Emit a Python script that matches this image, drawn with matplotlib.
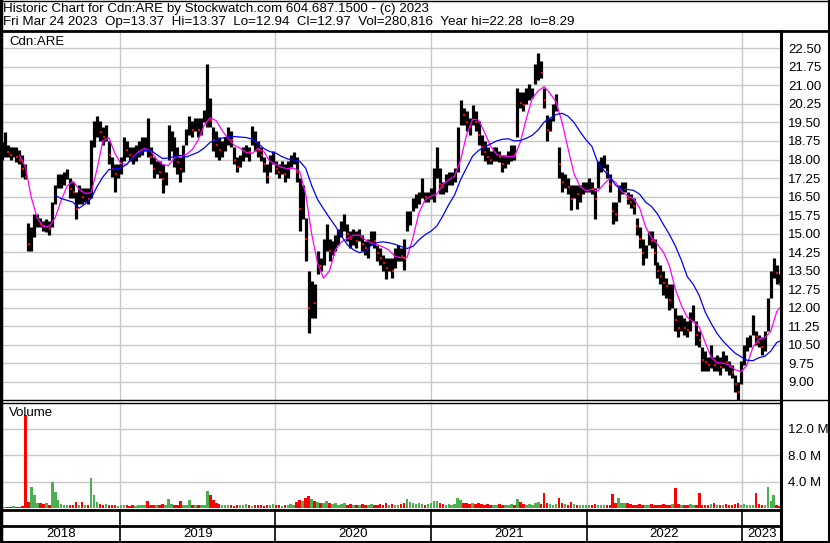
import numpy as np
import pandas as pd
import matplotlib
matplotlib.use('Agg')
import matplotlib.pyplot as plt
import matplotlib.dates as mdates
from matplotlib.lines import Line2D

plt.rcParams['font.family'] = ['Liberation Sans', 'DejaVu Sans']

# weekly bars (one bar per week from 2018-03-29)
first_week = '2018-03-29'
highs = [18.7, 19.1, 18.6, 18.5, 18.5, 18.5, 18.4, 18.2, 17.8, 15.45,
         15.25, 15.8, 15.8, 15.65, 15.5, 15.6, 15.5, 16.3, 16.95, 17.4,
         17.4, 17.5, 17.6, 17.25, 17.1, 16.7, 16.95, 16.85, 16.85, 16.85,
         18.8, 19.55, 19.75, 19.55, 19.3, 19.4, 18.75, 18.1, 17.8, 17.8,
         18.1, 18.9, 18.75, 18.5, 18.5, 18.6, 18.75, 18.9, 18.9, 19.7,
         18.5, 18.1, 17.95, 17.95, 17.8, 17.5, 19.4, 19.15, 18.9, 18.5,
         18.1, 18.6, 19.25, 19.75, 19.55, 19.7, 19.7, 19.7, 20.0, 21.85,
         20.5, 19.3, 19.15, 18.9, 18.75, 18.9, 19.3, 19.15, 18.5, 18.1,
         18.2, 18.5, 18.6, 18.5, 19.35, 19.15, 18.75, 18.5, 18.1, 17.8,
         18.2, 18.35, 17.95, 17.8, 17.95, 17.8, 17.95, 18.2, 18.3, 18.1,
         17.25, 16.95, 15.65, 13.5, 13.1, 12.95, 14.3, 14.0, 14.8, 15.4,
         14.8, 14.7, 14.95, 15.2, 15.5, 15.8, 15.4, 15.1, 15.2, 15.1,
         15.2, 14.95, 14.7, 14.8, 15.1, 15.1, 14.55, 14.4, 14.15, 14.0,
         14.0, 14.0, 14.4, 14.55, 14.4, 14.8, 15.9, 15.9, 16.45, 16.6,
         16.7, 17.25, 16.7, 16.7, 16.85, 17.65, 18.5, 17.65, 17.1, 17.4,
         17.5, 17.5, 17.65, 19.3, 20.4, 20.1, 19.95, 19.7, 20.2, 19.95,
         19.55, 19.0, 18.75, 18.5, 18.35, 18.5, 18.5, 18.35, 18.2, 18.2,
         18.35, 18.6, 18.6, 20.9, 20.75, 20.75, 20.9, 21.05, 20.9, 21.85,
         22.3, 22.0, 20.9, 19.8, 19.7, 20.25, 20.65, 18.5, 17.5, 17.4,
         17.25, 16.95, 16.95, 16.95, 16.95, 17.1, 17.1, 17.25, 17.1, 16.85,
         17.95, 18.1, 18.2, 17.8, 17.4, 16.3, 16.3, 16.95, 17.1, 17.1,
         16.7, 16.6, 16.45, 15.65, 15.25, 14.8, 14.55, 15.1, 15.1, 14.8,
         13.85, 13.75, 13.5, 13.2, 12.95, 12.95, 12.0, 11.7, 11.7, 11.6,
         11.45, 11.85, 12.1, 11.45, 11.05, 10.4, 10.25, 10.0, 10.5, 10.0,
         10.1, 10.0, 10.25, 10.1, 9.85, 9.7, 9.3, 9.0, 9.85, 10.5,
         10.8, 10.9, 11.7, 11.05, 10.9, 10.8, 11.05, 12.4, 13.5, 14.0,
         13.75, 13.37]
lows = [18.0, 18.1, 18.1, 18.0, 18.1, 17.9, 17.8, 17.3, 17.2, 14.3,
        14.3, 14.85, 15.25, 15.25, 15.1, 15.05, 14.95, 15.25, 16.2, 16.85,
        16.85, 16.95, 17.2, 16.45, 16.45, 15.6, 16.2, 16.2, 16.3, 16.2,
        16.45, 18.5, 18.9, 18.75, 18.6, 18.75, 17.8, 17.3, 16.7, 17.25,
        17.4, 17.95, 18.1, 17.95, 17.8, 17.95, 18.1, 18.2, 18.35, 18.1,
        17.8, 17.25, 17.4, 17.25, 16.65, 16.95, 18.0, 18.35, 17.7, 17.4,
        17.1, 17.5, 18.6, 19.0, 18.9, 19.15, 18.9, 19.0, 19.5, 19.3,
        19.3, 18.35, 18.1, 18.0, 18.1, 18.35, 18.6, 18.5, 17.8, 17.5,
        17.7, 17.95, 18.1, 17.95, 18.6, 18.35, 18.1, 17.95, 17.5, 17.05,
        17.5, 17.8, 17.4, 17.25, 17.4, 17.1, 17.25, 17.7, 17.8, 17.1,
        15.1, 15.6, 13.9, 11.0, 11.6, 11.6, 13.35, 13.5, 13.75, 14.3,
        13.9, 14.15, 14.3, 14.55, 14.85, 15.1, 14.7, 14.4, 14.55, 14.4,
        14.7, 14.3, 14.15, 14.0, 14.55, 14.4, 13.9, 13.75, 13.5, 13.15,
        13.5, 13.2, 13.6, 13.9, 13.9, 13.55, 15.1, 15.35, 15.9, 16.05,
        16.2, 16.45, 16.3, 16.3, 16.4, 16.3, 17.25, 16.6, 16.6, 16.7,
        16.95, 16.95, 17.1, 17.5, 19.4, 19.4, 19.15, 19.0, 19.4, 19.15,
        18.6, 18.2, 17.95, 17.8, 17.8, 17.95, 17.95, 17.9, 17.5, 17.65,
        17.8, 17.95, 18.0, 18.9, 20.1, 19.95, 20.25, 20.4, 20.5, 21.05,
        21.2, 21.3, 20.1, 18.75, 19.15, 19.55, 19.95, 17.25, 16.7, 16.85,
        16.6, 15.95, 16.45, 16.0, 16.3, 16.6, 16.7, 16.7, 16.6, 15.6,
        16.85, 17.5, 17.65, 17.25, 16.7, 15.4, 15.5, 16.3, 16.6, 16.7,
        16.2, 16.05, 15.8, 14.95, 14.4, 13.75, 14.0, 14.55, 14.4, 13.75,
        13.2, 12.95, 12.5, 12.4, 11.9, 12.0, 11.05, 10.8, 11.05, 10.9,
        10.8, 11.05, 11.45, 10.5, 10.4, 9.45, 9.45, 9.45, 9.55, 9.45,
        9.45, 9.3, 9.55, 9.45, 9.3, 9.15, 8.6, 8.29, 8.9, 9.7,
        10.25, 10.4, 10.9, 10.5, 10.4, 10.1, 10.25, 11.05, 12.4, 13.2,
        12.95, 12.94]
closes = [18.3, 18.4, 18.3, 18.2, 18.3, 18.1, 18.0, 17.6, 17.3, 14.6,
          14.7, 15.3, 15.5, 15.4, 15.3, 15.3, 15.2, 15.9, 16.7, 17.1,
          17.2, 17.3, 17.4, 16.8, 16.7, 16.0, 16.6, 16.5, 16.6, 16.4,
          18.2, 19.0, 19.3, 19.1, 18.9, 19.0, 18.2, 17.6, 17.4, 17.5,
          17.8, 18.5, 18.4, 18.2, 18.1, 18.3, 18.5, 18.6, 18.6, 18.4,
          18.1, 17.6, 17.7, 17.5, 17.2, 17.2, 18.6, 18.8, 18.1, 17.9,
          17.6, 18.0, 19.0, 19.4, 19.2, 19.4, 19.2, 19.3, 19.8, 20.3,
          19.6, 18.8, 18.6, 18.4, 18.4, 18.6, 19.0, 18.8, 18.0, 17.7,
          17.9, 18.2, 18.4, 18.3, 19.0, 18.7, 18.4, 18.2, 17.8, 17.3,
          17.9, 18.1, 17.6, 17.5, 17.7, 17.4, 17.6, 17.9, 18.0, 17.5,
          16.0, 16.2, 14.8, 12.0, 12.5, 12.2, 13.8, 13.7, 14.3, 15.0,
          14.3, 14.4, 14.6, 14.9, 15.2, 15.4, 15.0, 14.8, 14.9, 14.7,
          15.0, 14.6, 14.4, 14.4, 14.8, 14.7, 14.2, 14.0, 13.8, 13.6,
          13.7, 13.5, 14.0, 14.2, 14.1, 14.0, 15.4, 15.6, 16.2, 16.3,
          16.5, 16.8, 16.5, 16.5, 16.6, 17.2, 17.9, 17.0, 16.9, 17.1,
          17.3, 17.3, 17.4, 18.9, 20.0, 19.8, 19.5, 19.3, 19.9, 19.5,
          19.0, 18.5, 18.3, 18.1, 18.0, 18.2, 18.2, 18.1, 17.8, 17.9,
          18.0, 18.3, 18.2, 20.4, 20.3, 20.2, 20.6, 20.7, 20.7, 21.4,
          21.8, 21.5, 20.4, 19.2, 19.4, 19.9, 20.3, 17.8, 17.1, 17.1,
          16.9, 16.4, 16.7, 16.6, 16.7, 16.8, 16.9, 16.9, 16.8, 16.4,
          17.6, 17.8, 17.9, 17.5, 17.0, 15.9, 15.8, 16.6, 16.8, 16.9,
          16.4, 16.3, 16.1, 15.3, 14.8, 14.2, 14.3, 14.8, 14.7, 14.2,
          13.5, 13.3, 13.0, 12.9, 12.3, 12.5, 11.5, 11.2, 11.3, 11.2,
          11.1, 11.5, 11.7, 10.9, 10.7, 9.9, 9.8, 9.7, 9.9, 9.7,
          9.8, 9.6, 9.9, 9.8, 9.6, 9.4, 8.9, 8.6, 9.5, 10.1,
          10.5, 10.7, 11.2, 10.8, 10.6, 10.4, 10.6, 11.8, 13.0, 13.6,
          13.4, 12.97]
# largest daily volume seen in each week, millions
volumes = [0.15, 0.2, 0.1, 0.2, 0.25, 0.15, 0.2, 0.3, 14.0, 0.9,
           3.2, 2.0, 0.7, 0.8, 0.6, 0.7, 0.5, 4.0, 2.4, 1.2,
           0.6, 0.4, 0.5, 0.4, 0.5, 0.9, 0.5, 0.9, 0.4, 0.5,
           4.5, 2.0, 0.9, 0.6, 0.5, 0.6, 0.5, 0.4, 0.5, 0.3,
           0.4, 0.5, 0.4, 0.3, 0.4, 0.3, 0.4, 0.5, 0.4, 1.1,
           0.4, 0.5, 0.5, 0.4, 0.6, 0.5, 1.3, 0.6, 0.5, 0.4,
           1.0, 0.4, 0.5, 1.2, 0.5, 0.4, 0.5, 0.4, 0.5, 2.5,
           1.9, 1.2, 0.7, 0.6, 0.4, 0.5, 0.4, 0.5, 0.3, 0.4,
           0.5, 0.4, 0.6, 0.5, 0.3, 0.4, 0.5, 0.4, 0.3, 0.5,
           0.4, 0.6, 0.5, 0.4, 0.3, 0.4, 0.5, 0.6, 0.4, 0.9,
           1.2, 1.0, 1.5, 1.8, 1.3, 1.0, 0.9, 0.8, 0.7, 1.0,
           0.8, 0.6, 0.7, 0.5, 0.6, 0.8, 0.5, 0.6, 0.5, 0.4,
           0.5, 0.6, 0.4, 0.5, 0.6, 0.5, 0.4, 0.6, 0.5, 0.7,
           0.5, 0.6, 0.5, 0.4, 0.6, 0.7, 1.4, 0.9, 0.7, 0.6,
           0.8, 0.6, 0.5, 0.6, 0.7, 1.0, 1.1, 0.7, 0.6, 0.5,
           0.6, 0.5, 0.6, 1.5, 1.2, 0.8, 0.7, 0.6, 0.8, 0.6,
           0.7, 0.6, 0.5, 0.6, 0.5, 0.4, 0.5, 0.6, 0.5, 0.4,
           0.5, 0.6, 0.5, 1.4, 0.9, 0.6, 0.5, 0.6, 0.5, 0.8,
           0.9, 0.6, 2.2, 0.7, 0.6, 0.5, 0.6, 1.5, 0.7, 0.6,
           0.5, 0.9, 0.6, 0.4, 0.5, 0.4, 0.5, 0.4, 0.5, 0.6,
           0.5, 0.4, 0.5, 0.4, 0.5, 2.1, 0.8, 1.5, 0.7, 0.7,
           0.8, 0.6, 0.4, 0.5, 0.6, 0.5, 0.4, 0.5, 0.6, 0.5,
           0.4, 0.5, 0.6, 0.5, 0.4, 0.6, 3.0, 0.6, 0.5, 0.4,
           0.5, 0.6, 0.5, 0.4, 2.2, 0.5, 0.4, 0.5, 0.6, 0.8,
           0.5, 0.4, 0.5, 0.6, 0.5, 0.4, 0.6, 0.7, 0.5, 0.6,
           0.5, 0.4, 0.5, 2.2, 0.6, 0.5, 0.4, 3.1, 1.1, 2.0,
           0.5, 0.3]

# short moving average (magenta), every 2nd week from week 6, plus last week
ma_short_weeks = list(range(6, 261, 2)) + [261]
ma_short = [18.16, 17.7, 16.45, 15.62, 15.28, 15.28, 15.65, 16.35, 16.93, 17.12,
            16.8, 16.63, 16.65, 17.6, 18.77, 18.88, 18.25, 17.84, 17.8, 18.08,
            18.32, 18.45, 18.35, 18.0, 17.8, 17.75, 18.08, 18.14, 18.21, 18.41,
            18.8, 19.4, 19.69, 19.57, 19.17, 18.85, 18.58, 18.46, 18.29, 18.24,
            18.45, 18.32, 17.93, 17.8, 17.68, 17.63, 17.65, 17.52, 16.6, 15.0,
            13.8, 13.2, 13.5, 14.35, 14.67, 14.8, 14.94, 14.94, 14.75, 14.63,
            14.55, 14.46, 14.33, 14.08, 14.03, 14.03, 14.85, 15.85, 16.35, 16.52,
            16.6, 17.0, 17.18, 17.33, 18.0, 19.02, 19.63, 19.6, 19.1, 18.55,
            18.21, 18.14, 18.12, 18.12, 18.7, 19.65, 20.47, 20.78, 20.95, 20.67,
            20.33, 19.5, 18.45, 17.43, 16.92, 16.74, 16.79, 16.73, 17.0, 17.24,
            17.07, 16.72, 16.52, 16.41, 16.05, 15.28, 14.84, 14.57, 14.25, 13.7,
            12.75, 12.1, 11.62, 11.43, 11.22, 10.6, 10.0, 9.78, 9.76, 9.69,
            9.5, 9.41, 9.68, 10.4, 10.74, 10.79, 11.05, 11.85, 12.0]
# long moving average (blue), every 2nd week from week 18, plus last week
ma_long_weeks = list(range(18, 261, 2)) + [261]
ma_long = [16.55, 16.42, 16.35, 16.27, 16.03, 16.2, 16.42, 16.9, 17.3, 17.59,
           17.63, 17.65, 17.81, 18.08, 18.24, 18.36, 18.38, 18.2, 18.04, 18.06,
           18.12, 18.17, 18.1, 18.2, 18.3, 18.47, 18.7, 18.77, 18.87, 18.91,
           18.93, 18.91, 18.89, 18.83, 18.66, 18.44, 18.32, 18.26, 18.12, 18.02,
           17.98, 17.93, 17.65, 16.95, 16.38, 16.0, 15.64, 15.3, 14.9, 14.55,
           14.35, 14.23, 14.3, 14.53, 14.64, 14.67, 14.63, 14.57, 14.48, 14.4,
           14.49, 14.75, 14.95, 15.1, 15.31, 15.72, 16.18, 16.58, 17.2, 17.67,
           18.14, 18.37, 18.5, 18.63, 18.75, 18.82, 18.84, 18.75, 18.77, 18.86,
           18.98, 19.2, 19.52, 19.68, 19.82, 19.87, 19.75, 19.5, 19.13, 18.8,
           18.53, 17.87, 17.56, 17.3, 16.95, 16.79, 16.79, 16.75, 16.6, 16.28,
           16.1, 15.8, 15.37, 14.97, 14.5, 13.93, 13.26, 12.95, 12.5, 11.83,
           11.37, 10.96, 10.65, 10.4, 10.17, 10.02, 9.88, 9.86, 9.98, 10.04,
           10.25, 10.6, 10.65]

price_ticks = [9.0, 9.75, 10.5, 11.25, 12.0, 12.75, 13.5, 14.25, 15.0, 15.75,
               16.5, 17.25, 18.0, 18.75, 19.5, 20.25, 21.0, 21.75, 22.5]
volume_ticks = [4.0, 8.0, 12.0]
years = [2018, 2019, 2020, 2021, 2022, 2023]
title_1 = 'Historic Chart for Cdn:ARE by Stockwatch.com 604.687.1500 - (c) 2023'
title_2 = ('Fri Mar 24 2023  Op=13.37  Hi=13.37  Lo=12.94  Cl=12.97  '
           'Vol=280,816  Year hi=22.28  lo=8.29')

W, H = 830, 543
fig = plt.figure(figsize=(W / 100, H / 100), dpi=100)
fig.patch.set_facecolor('white')


def rect(x0, y0, x1, y1):
    return [x0 / W, 1 - y1 / H, (x1 - x0) / W, (y1 - y0) / H]


def hline(y, x0, x1, lw):
    fig.add_artist(Line2D([x0 / W, x1 / W], [1 - y / H, 1 - y / H],
                          color='black', lw=lw, transform=fig.transFigure))


def vline(x, y0, y1, lw):
    fig.add_artist(Line2D([x / W, x / W], [1 - y0 / H, 1 - y1 / H],
                          color='black', lw=lw, transform=fig.transFigure))


dates = pd.date_range(first_week, periods=len(highs), freq='7D')
x = mdates.date2num(dates)
xlim = (mdates.date2num(pd.Timestamp('2018-03-30')),
        mdates.date2num(pd.Timestamp('2023-04-02')))
year_lines = [mdates.date2num(pd.Timestamp(f'{y}-01-01')) for y in years[1:]]

grid_col = '#c8c8c8'

# price panel
ax = fig.add_axes(rect(2, 32, 781, 400))
ax.set_xlim(*xlim)
ax.set_ylim(8.27, 23.16)
ax.vlines(x, lows, highs, color='black', lw=2.3, zorder=3)
cl = np.array(closes)
down = np.r_[False, cl[1:] < cl[:-1]]
ax.plot(x[down] + 1.5, cl[down], 's', color='red', ms=1.6, mew=0, zorder=4)
ax.plot(x[ma_short_weeks], ma_short, color='#ff00ff', lw=0.9, zorder=5)
ax.plot(x[ma_long_weeks], ma_long, color='#0000ff', lw=0.9, zorder=5)
ax.set_yticks(price_ticks)
ax.yaxis.tick_right()
ax.set_yticklabels([f'{t:.2f}' for t in price_ticks], fontsize=9.5)
ax.tick_params(axis='y', length=0, pad=5)
ax.set_xticks(year_lines)
ax.tick_params(axis='x', length=0, labelbottom=False)
ax.grid(True, color=grid_col, lw=1.0, zorder=0)
for s in ax.spines.values():
    s.set_visible(False)
ax.text(0.009, 0.972, 'Cdn:ARE', transform=ax.transAxes, fontsize=9.5,
        ha='left', va='center')

# volume panel
av = fig.add_axes(rect(2, 402, 781, 510))
av.set_xlim(*xlim)
av.set_ylim(-0.3, 16.0)
vol_colors = ['#4cb050' if not d else '#ff0000' for d in down]
av.bar(x, volumes, width=6.0, color=vol_colors, linewidth=0, zorder=3)
av.set_yticks(volume_ticks)
av.yaxis.tick_right()
av.set_yticklabels([f'{t:.1f} M' for t in volume_ticks], fontsize=9.5)
av.tick_params(axis='y', length=0, pad=5)
av.set_xticks(year_lines)
av.tick_params(axis='x', length=0, labelbottom=False)
av.grid(True, color=grid_col, lw=1.0, zorder=0)
for s in av.spines.values():
    s.set_visible(False)
av.text(0.009, 0.9, 'Volume', transform=av.transAxes, fontsize=9.5,
        ha='left', va='center')

# date strip
ad = fig.add_axes(rect(2, 510, 781, 542))
ad.set_xlim(*xlim)
ad.set_ylim(0, 1)
ad.axis('off')
bounds = [xlim[0]] + year_lines + [xlim[1]]
for i, y in enumerate(years):
    ad.text((bounds[i] + bounds[i + 1]) / 2, 0.25, str(y), fontsize=9.5,
            ha='center', va='center')

# frame lines
for yl in year_lines:
    px = 2 + (yl - xlim[0]) / (xlim[1] - xlim[0]) * 779
    vline(px, 510, 542, 1.2)
hline(0.5, 0, W, 1.0)
hline(31, 0, W, 2.0)
hline(400, 0, W, 1.0)
hline(402.5, 0, 781, 1.0)
hline(510, 0, 781, 2.0)
hline(526, 0, 781, 2.0)
hline(542, 0, W, 1.5)
vline(1.2, 0, H, 2.5)
vline(781, 31, H, 2.2)
vline(829, 0, H, 1.5)

fig.text(3 / W, 1 - 9 / H, title_1, fontsize=9.6, ha='left', va='center')
fig.text(3 / W, 1 - 22 / H, title_2, fontsize=9.6, ha='left', va='center')

fig.savefig('out.png', dpi=100)
